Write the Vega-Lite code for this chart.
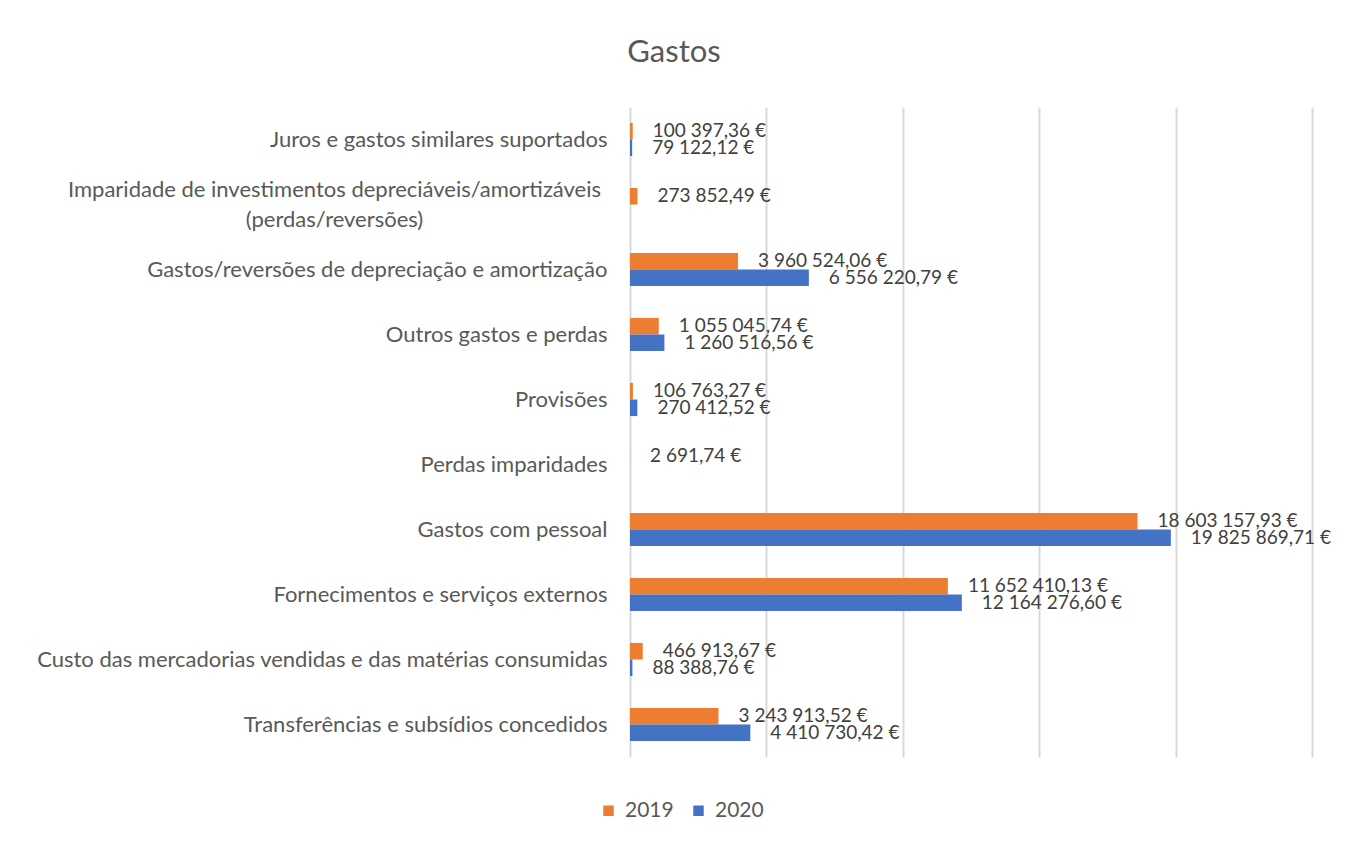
{
  "$schema": "https://vega.github.io/schema/vega-lite/v6.json",
  "autosize": {"type": "none"},
  "width": 682,
  "height": 650,
  "padding": {"left": 630, "top": 107, "right": 38, "bottom": 85},
  "background": "white",
  "title": {"text": "Gastos", "fontSize": 31, "font": "Lato", "fontWeight": "normal", "color": "#595959", "anchor": "middle", "dx": -297, "offset": 38},
  "config": {
    "locale": {"number": {"decimal": ",", "thousands": "\u00a0", "grouping": [3], "currency": ["", "\u00a0€"]}},
    "view": {"stroke": null},
    "font": "Lato"
  },
  "data": {
    "values": [
      {"category": "Juros e gastos similares suportados", "year": "2019", "value": 100397.36},
      {"category": "Juros e gastos similares suportados", "year": "2020", "value": 79122.12},
      {"category": "Imparidade de investimentos depreciáveis/amortizáveis (perdas/reversões)", "year": "2019", "value": 273852.49},
      {"category": "Gastos/reversões de depreciação e amortização", "year": "2019", "value": 3960524.06},
      {"category": "Gastos/reversões de depreciação e amortização", "year": "2020", "value": 6556220.79},
      {"category": "Outros gastos e perdas", "year": "2019", "value": 1055045.74},
      {"category": "Outros gastos e perdas", "year": "2020", "value": 1260516.56},
      {"category": "Provisões", "year": "2019", "value": 106763.27},
      {"category": "Provisões", "year": "2020", "value": 270412.52},
      {"category": "Perdas imparidades", "year": "2019", "value": 2691.74},
      {"category": "Gastos com pessoal", "year": "2019", "value": 18603157.93},
      {"category": "Gastos com pessoal", "year": "2020", "value": 19825869.71},
      {"category": "Fornecimentos e serviços externos", "year": "2019", "value": 11652410.13},
      {"category": "Fornecimentos e serviços externos", "year": "2020", "value": 12164276.60},
      {"category": "Custo das mercadorias vendidas e das matérias consumidas", "year": "2019", "value": 466913.67},
      {"category": "Custo das mercadorias vendidas e das matérias consumidas", "year": "2020", "value": 88388.76},
      {"category": "Transferências e subsídios concedidos", "year": "2019", "value": 3243913.52},
      {"category": "Transferências e subsídios concedidos", "year": "2020", "value": 4410730.42}
    ]
  },
  "encoding": {
    "y": {
      "field": "category", "type": "nominal", "sort": null, "title": null,
      "scale": {"paddingInner": 0.49, "paddingOuter": 0.245},
      "axis": {
        "domain": false, "ticks": false, "labelFontSize": 22, "labelColor": "#595959", "labelLimit": 700, "labelLineHeight": 30,
        "labelPadding": {"condition": {"test": "datum.value == 'Imparidade de investimentos depreciáveis/amortizáveis (perdas/reversões)'", "value": 296}, "value": 23},
        "labelAlign": {"condition": {"test": "datum.value == 'Imparidade de investimentos depreciáveis/amortizáveis (perdas/reversões)'", "value": "center"}, "value": "right"},
        "labelOffset": {"condition": {"test": "datum.value == 'Imparidade de investimentos depreciáveis/amortizáveis (perdas/reversões)'", "value": -15}, "value": 0},
        "labelExpr": "datum.label == 'Imparidade de investimentos depreciáveis/amortizáveis (perdas/reversões)' ? ['Imparidade de investimentos depreciáveis/amortizáveis', '(perdas/reversões)'] : datum.label"
      }
    },
    "yOffset": {"field": "year", "type": "nominal", "scale": {"domain": ["2019", "2020"]}},
    "x": {
      "field": "value", "type": "quantitative", "title": null,
      "scale": {"domain": [0, 25000000], "nice": false},
      "axis": {"values": [0, 5000000, 10000000, 15000000, 20000000, 25000000], "labels": false, "ticks": false, "domain": false, "grid": true, "gridColor": "#d9d9d9", "gridWidth": 2}
    }
  },
  "layer": [
    {
      "mark": {"type": "bar"},
      "encoding": {
        "color": {
          "field": "year", "type": "nominal",
          "scale": {"domain": ["2019", "2020"], "range": ["#ED7D31", "#4472C4"]},
          "legend": {"orient": "none", "legendX": -32, "legendY": 693, "direction": "horizontal", "title": null, "symbolType": "square", "symbolSize": 110, "symbolStrokeWidth": 0, "labelFontSize": 21, "labelColor": "#595959", "columnPadding": 14, "labelOffset": 6}
        }
      }
    },
    {
      "mark": {"type": "text", "align": "left", "baseline": "middle", "dx": 20, "fontSize": 19, "color": "#404040"},
      "encoding": {
        "text": {"field": "value", "type": "quantitative", "format": "$,.2f"}
      }
    }
  ]
}
